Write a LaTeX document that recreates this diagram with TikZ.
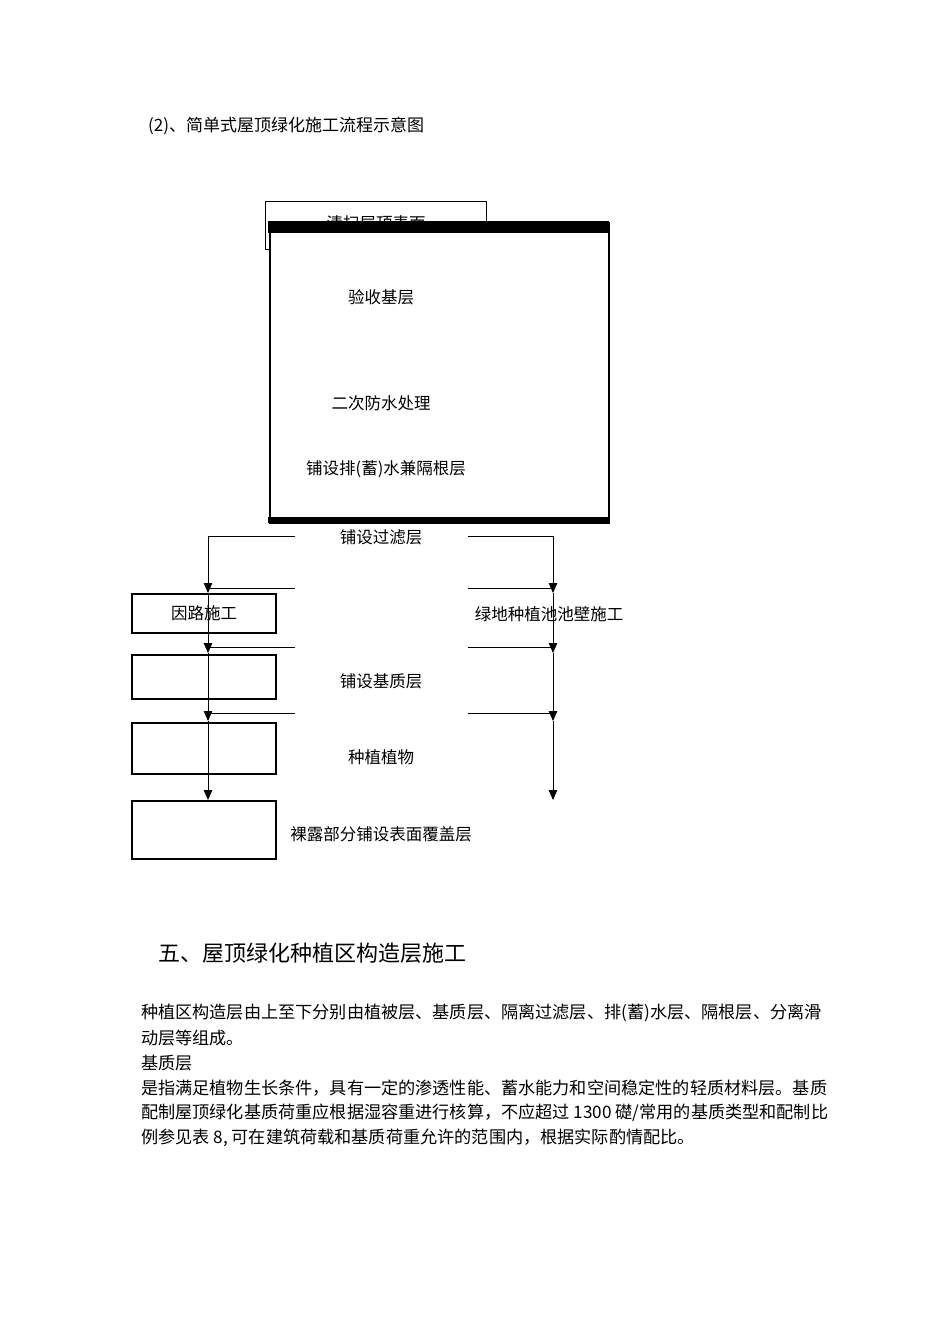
\documentclass[tikz,border=0pt]{standalone}
\usepackage{fontspec}
\setmainfont{Noto Sans CJK SC}
\usetikzlibrary{arrows.meta}
\begin{document}
\begin{tikzpicture}[x=1pt,y=-1pt,
  lbl/.style={inner sep=0pt, font=\fontsize{16.5}{18}\selectfont},
  body/.style={inner sep=0pt, anchor=west, font=\fontsize{17.15}{20}\selectfont},
  sbox/.style={draw, line width=1.1pt, inner sep=0pt, font=\fontsize{16.5}{18}\selectfont},
  flow/.style={line width=1pt, -{Triangle[length=10pt,width=8.5pt]}},
  ln/.style={line width=1pt}]
\useasboundingbox[fill=white] (0,0) rectangle (950,1344);

% title
\node[inner sep=0pt, anchor=west, font=\fontsize{17}{19}\selectfont] (title) at (148,126) {(2)、简单式屋顶绿化施工流程示意图};

% small box partly covered
\node[draw, line width=1pt, minimum width=221pt, minimum height=48pt, inner sep=0pt, anchor=north west] (clean) at (265,201) {};
\node[lbl] (cleantxt) at (376,223) {清扫屋顶表面};

% big box
\node[draw, fill=white, line width=2pt, minimum width=339pt, minimum height=300pt, inner sep=0pt, anchor=north west] (main) at (269,222) {};
\fill (268,221) rectangle (609,233);
\fill (268,517) rectangle (609,523);
\node[lbl] (t1) at (381,297) {验收基层};
\node[lbl] (t2) at (381,403) {二次防水处理};
\node[lbl] (t3) at (386,469) {铺设排(蓄)水兼隔根层};

% middle labels
\node[lbl] (filt) at (381,537) {铺设过滤层};
\node[lbl] (base) at (381,681) {铺设基质层};
\node[lbl] (plant) at (381,757) {种植植物};
\node[lbl] (cover) at (381,834) {裸露部分铺设表面覆盖层};
\node[lbl] (wall) at (549,614) {绿地种植池池壁施工};

% left boxes
\node[sbox, minimum width=144pt, minimum height=39pt] (road) at (204,613.5) {因路施工};
\node[sbox, minimum width=144pt, minimum height=44pt] (lb2) at (204,677) {};
\node[sbox, minimum width=144pt, minimum height=51pt] (lb3) at (204,748.5) {};
\node[sbox, minimum width=144pt, minimum height=58pt] (lb4) at (204,830) {};

% coordinates
\coordinate (fl) at (295,536);
\coordinate (fr) at (468,536);
\coordinate (a1) at (208,593);
\coordinate (a2) at (208,653);
\coordinate (a3) at (208,721);
\coordinate (a4) at (208,800);
\coordinate (c1) at (553,593);
\coordinate (c2) at (553,653);
\coordinate (c3) at (553,721);
\coordinate (c4) at (553,800);
\coordinate (hl1) at (208,588); \coordinate (hl1e) at (295,588);
\coordinate (hl2) at (208,647); \coordinate (hl2e) at (295,647);
\coordinate (hl3) at (208,713); \coordinate (hl3e) at (295,713);
\coordinate (hr1) at (553,588); \coordinate (hr1e) at (468,588);
\coordinate (hr2) at (553,647); \coordinate (hr2e) at (468,647);
\coordinate (hr3) at (553,713); \coordinate (hr3e) at (468,713);

\draw[flow] (fl) -| (a1);
\draw[flow] (a1) -- (a2);
\draw[flow] (a2) -- (a3);
\draw[flow] (a3) -- (a4);
\draw[flow] (fr) -| (c1);
\draw[flow] (c1) -- (c2);
\draw[flow] (c2) -- (c3);
\draw[flow] (c3) -- (c4);
\draw[ln] (hl1) -- (hl1e);
\draw[ln] (hl2) -- (hl2e);
\draw[ln] (hl3) -- (hl3e);
\draw[ln] (hr1e) -- (hr1);
\draw[ln] (hr2e) -- (hr2);
\draw[ln] (hr3e) -- (hr3);

% heading
\node[inner sep=0pt, anchor=west, font=\fontsize{22}{24}\selectfont] (head) at (158,953) {五、屋顶绿化种植区构造层施工};

% body
\node[body] (p1) at (141,1013) {种植区构造层由上至下分别由植被层、基质层、隔离过滤层、排(蓄)水层、隔根层、分离滑};
\node[body] (p2) at (141,1038) {动层等组成。};
\node[body] (p3) at (141,1063) {基质层};
\node[body] (p4) at (141,1088) {是指满足植物生长条件，具有一定的渗透性能、蓄水能力和空间稳定性的轻质材料层。基质};
\node[body] (p5) at (141,1113) {配制屋顶绿化基质荷重应根据湿容重进行核算，不应超过 1300 礎/常用的基质类型和配制比};
\node[body] (p6) at (141,1138) {例参见表 8, 可在建筑荷载和基质荷重允许的范围内，根据实际酌情配比。};
\end{tikzpicture}
\end{document}
